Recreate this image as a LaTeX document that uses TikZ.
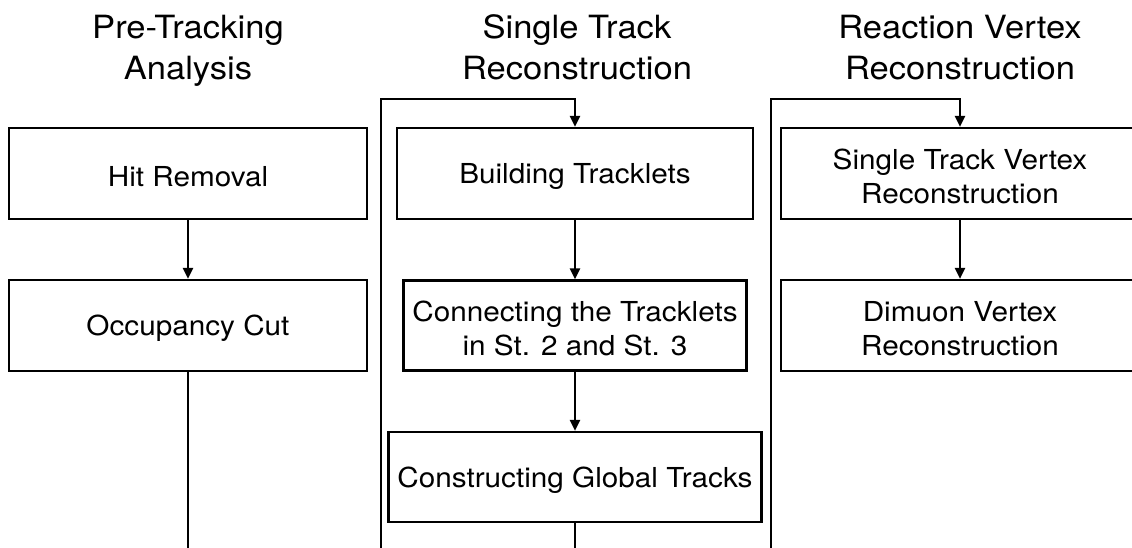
\documentclass[tikz,border=0pt]{standalone}
\usepackage{fontspec}
\setmainfont{TeX Gyre Heros}[FakeStretch=1.08]
\usetikzlibrary{arrows.meta}
\begin{document}
\begin{tikzpicture}[x=1pt,y=-1pt,
  line width=2.2pt,
  boxtext/.style={inner sep=0pt, align=center, font=\fontsize{27.5}{34}\selectfont},
  stepbox/.style={draw, rectangle, inner sep=0pt,
    label={[boxtext, yshift=-3pt]center:#1}},
  ttl/.style={inner sep=0pt, anchor=base, font=\fontsize{32}{42}\selectfont},
  arr/.style={-{Triangle[length=11pt,width=10pt]}}]
\useasboundingbox (0,0) rectangle (1132,547);
% titles
\node[ttl] (t1a) at (188,38.5) {Pre-Tracking};
\node[ttl] (t1b) at (188,79.5) {Analysis};
\node[ttl] (t2a) at (577,38.5) {Single Track};
\node[ttl] (t2b) at (577,79.5) {Reconstruction};
\node[ttl] (t3a) at (960,38.5) {Reaction Vertex};
\node[ttl] (t3b) at (960,79.5) {Reconstruction};
% column 1
\node[stepbox={Hit Removal}, minimum width=358pt, minimum height=91pt] (hit) at (188,173.5) {};
\node[stepbox={Occupancy Cut}, minimum width=358pt, minimum height=91pt] (occ) at (188,325.5) {};
% column 2
\node[stepbox={Building Tracklets}, minimum width=356pt, minimum height=91pt] (build) at (575,173.5) {};
\node[stepbox={Connecting the Tracklets\\in St. 2 and St. 3}, minimum width=343pt, minimum height=90pt] (conn) at (575,325.5) {};
\node[stepbox={Constructing Global Tracks}, minimum width=373pt, minimum height=90pt] (cons) at (575,477) {};
% column 3
\node[stepbox={Single Track Vertex\\Reconstruction}, minimum width=358pt, minimum height=91pt] (stv) at (960,173.5) {};
\node[stepbox={Dimuon Vertex\\Reconstruction}, minimum width=358pt, minimum height=91pt] (dim) at (960,325.5) {};
% coordinates
\coordinate (c1bot) at (188,552);
\coordinate (c2bot) at (381,552);
\coordinate (c2top) at (381,99);
\coordinate (c2end) at (575,552);
\coordinate (c3bot) at (771,552);
\coordinate (c3top) at (771,99);
% connectors
\draw[arr] (hit) -- (occ);
\draw (occ.south) -- (c1bot);
\draw[arr] (c2bot) -- (c2top) -| (build.north);
\draw[arr] (build) -- (conn);
\draw[arr] (conn) -- (cons);
\draw (cons.south) -- (c2end);
\draw[arr] (c3bot) -- (c3top) -| (stv.north);
\draw[arr] (stv) -- (dim);
\end{tikzpicture}
\end{document}
